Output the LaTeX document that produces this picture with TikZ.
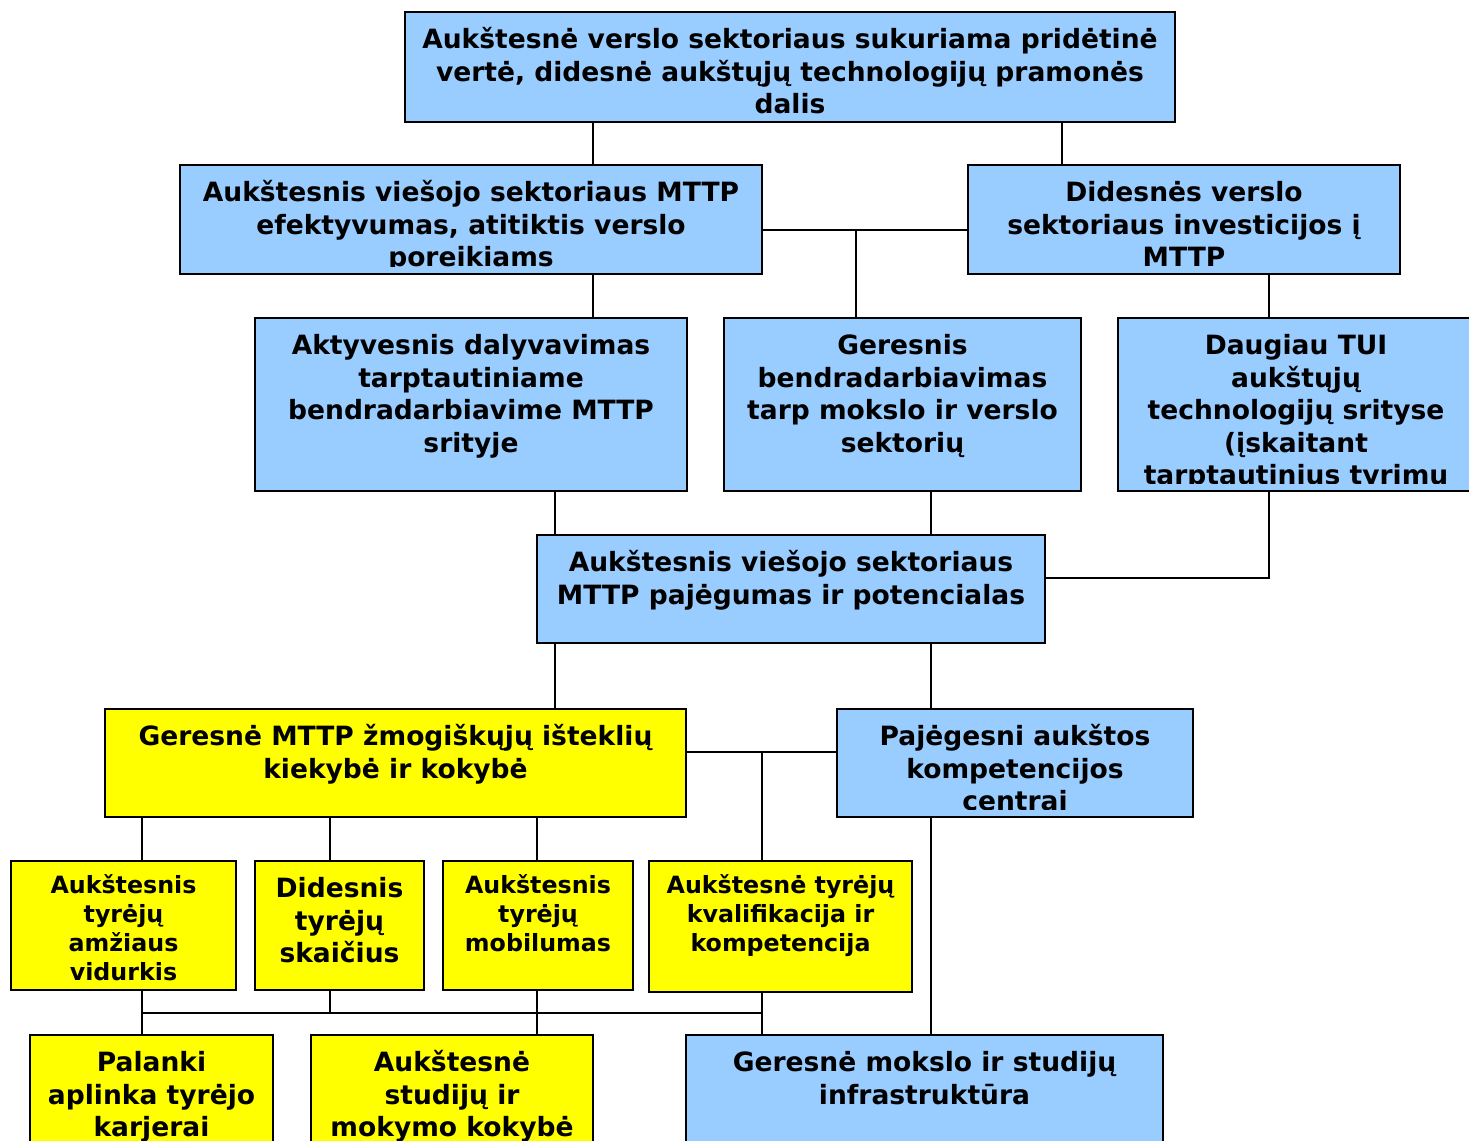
\documentclass[tikz,border=0pt]{standalone}
\usepackage{fontspec}
\setmainfont{DejaVu Sans}
\usetikzlibrary{fit}
\definecolor{bl}{RGB}{153,204,255}
\definecolor{ye}{RGB}{255,255,0}
\tikzset{
  boxst/.style={draw=black, line width=1.2pt, inner sep=0pt},
  bigtxt/.style={inner sep=0pt, align=center, font=\fontsize{19.9}{24.4}\selectfont\bfseries},
  smalltxt/.style={inner sep=0pt, align=center, yshift=1.5pt, font=\fontsize{17.8}{21.75}\selectfont\bfseries},
  conn/.style={draw=black, line width=1pt}
}
% name, x1, y1, x2, y2, fill, text style, text, bottom clip margin
\newcommand\bx[9]{%
  \node[boxst, fill=#6, fit={(#2,#3) (#4,#5)}] (#1) {};
  \begin{scope}
    \clip (#2,#3) rectangle (#4,{#5-#9});
    \node[#7, anchor=north] at ({(#2+#4)/2},{#3+10}) {\rule{0pt}{1em}#8};
  \end{scope}}
\begin{document}
\begin{tikzpicture}[x=0.75pt,y=-0.75pt]
\clip (0,0) rectangle (1469,1140);
\fill[white] (0,0) rectangle (1469,1140);
% boxes
\bx{top}{405}{12}{1175}{122}{bl}{bigtxt}{Aukštesnė verslo sektoriaus sukuriama pridėtinė\\vertė, didesnė aukštųjų technologijų pramonės\\dalis}{8}
\bx{lm}{180}{165}{762}{274}{bl}{bigtxt}{Aukštesnis viešojo sektoriaus MTTP\\efektyvumas, atitiktis verslo\\poreikiams}{8}
\bx{rm}{968}{165}{1400}{274}{bl}{bigtxt}{Didesnės verslo\\sektoriaus investicijos į\\MTTP}{8}
\bx{aa}{255}{318}{687}{491}{bl}{bigtxt}{Aktyvesnis dalyvavimas\\tarptautiniame\\bendradarbiavime MTTP\\srityje}{8}
\bx{bb}{724}{318}{1081}{491}{bl}{bigtxt}{Geresnis\\bendradarbiavimas\\tarp mokslo ir verslo\\sektorių}{8}
\bx{cc}{1118}{318}{1474}{491}{bl}{bigtxt}{Daugiau TUI\\aukštųjų\\technologijų srityse\\(įskaitant\\tarptautinius tyrimų}{8}
\bx{ce}{537}{535}{1045}{643}{bl}{bigtxt}{Aukštesnis viešojo sektoriaus\\MTTP pajėgumas ir potencialas}{8}
\bx{yb}{105}{709}{686}{817}{ye}{bigtxt}{Geresnė MTTP žmogiškųjų išteklių\\kiekybė ir kokybė}{8}
\bx{pa}{837}{709}{1193}{817}{bl}{bigtxt}{Pajėgesni aukštos\\kompetencijos\\centrai}{8}
\bx{ya}{11}{861}{236}{990}{ye}{smalltxt}{Aukštesnis\\tyrėjų\\amžiaus\\vidurkis}{2}
\bx{yc}{255}{861}{424}{990}{ye}{bigtxt}{Didesnis\\tyrėjų\\skaičius}{2}
\bx{yd}{443}{861}{633}{990}{ye}{smalltxt}{Aukštesnis\\tyrėjų\\mobilumas}{2}
\bx{yf}{649}{861}{912}{992}{ye}{smalltxt}{Aukštesnė tyrėjų\\kvalifikacija ir\\kompetencija}{2}
\bx{pp}{30}{1035}{273}{1160}{ye}{bigtxt}{Palanki\\aplinka tyrėjo\\karjerai}{8}
\bx{ss}{311}{1035}{593}{1160}{ye}{bigtxt}{Aukštesnė\\studijų ir\\mokymo kokybė}{8}
\bx{gg}{686}{1035}{1163}{1160}{bl}{bigtxt}{Geresnė mokslo ir studijų\\infrastruktūra}{8}
% connector guide coordinates
\coordinate (x593) at (593,0);
\coordinate (x1062) at (1062,0);
\coordinate (x1269) at (1269,0);
\coordinate (x555) at (555,0);
\coordinate (x931) at (931,0);
\coordinate (x142) at (142,0);
\coordinate (x330) at (330,0);
\coordinate (x537) at (537,0);
\coordinate (x762) at (762,0);
\coordinate (y230) at (0,230);
\coordinate (y578) at (0,578);
\coordinate (y752) at (0,752);
\coordinate (j1) at (856,230);
\coordinate (j2) at (762,752);
\coordinate (b1) at (142,1013);
\coordinate (b2) at (330,1013);
\coordinate (b4) at (762,1013);
% connectors
\draw[conn] (top.south -| x593) -- (lm.north -| x593);
\draw[conn] (top.south -| x1062) -- (rm.north -| x1062);
\draw[conn] (lm.east |- y230) -- (rm.west |- y230);
\draw[conn] (j1) -- (bb.north -| j1);
\draw[conn] (lm.south -| x593) -- (aa.north -| x593);
\draw[conn] (rm.south -| x1269) -- (cc.north -| x1269);
\draw[conn] (aa.south -| x555) -- (ce.north -| x555);
\draw[conn] (bb.south -| x931) -- (ce.north -| x931);
\draw[conn] (cc.south -| x1269) |- (ce.east |- y578);
\draw[conn] (ce.south -| x555) -- (yb.north -| x555);
\draw[conn] (ce.south -| x931) -- (pa.north -| x931);
\draw[conn] (yb.east |- y752) -- (pa.west |- y752);
\draw[conn] (j2) -- (yf.north -| j2);
\draw[conn] (yb.south -| x142) -- (ya.north -| x142);
\draw[conn] (yb.south -| x330) -- (yc.north -| x330);
\draw[conn] (yb.south -| x537) -- (yd.north -| x537);
\draw[conn] (pa.south -| x931) -- (gg.north -| x931);
\draw[conn] (b1) -- (b4);
\draw[conn] (ya.south -| x142) -- (pp.north -| x142);
\draw[conn] (yc.south -| x330) -- (b2);
\draw[conn] (yd.south -| x537) -- (ss.north -| x537);
\draw[conn] (yf.south -| x762) -- (gg.north -| x762);
\end{tikzpicture}
\end{document}
